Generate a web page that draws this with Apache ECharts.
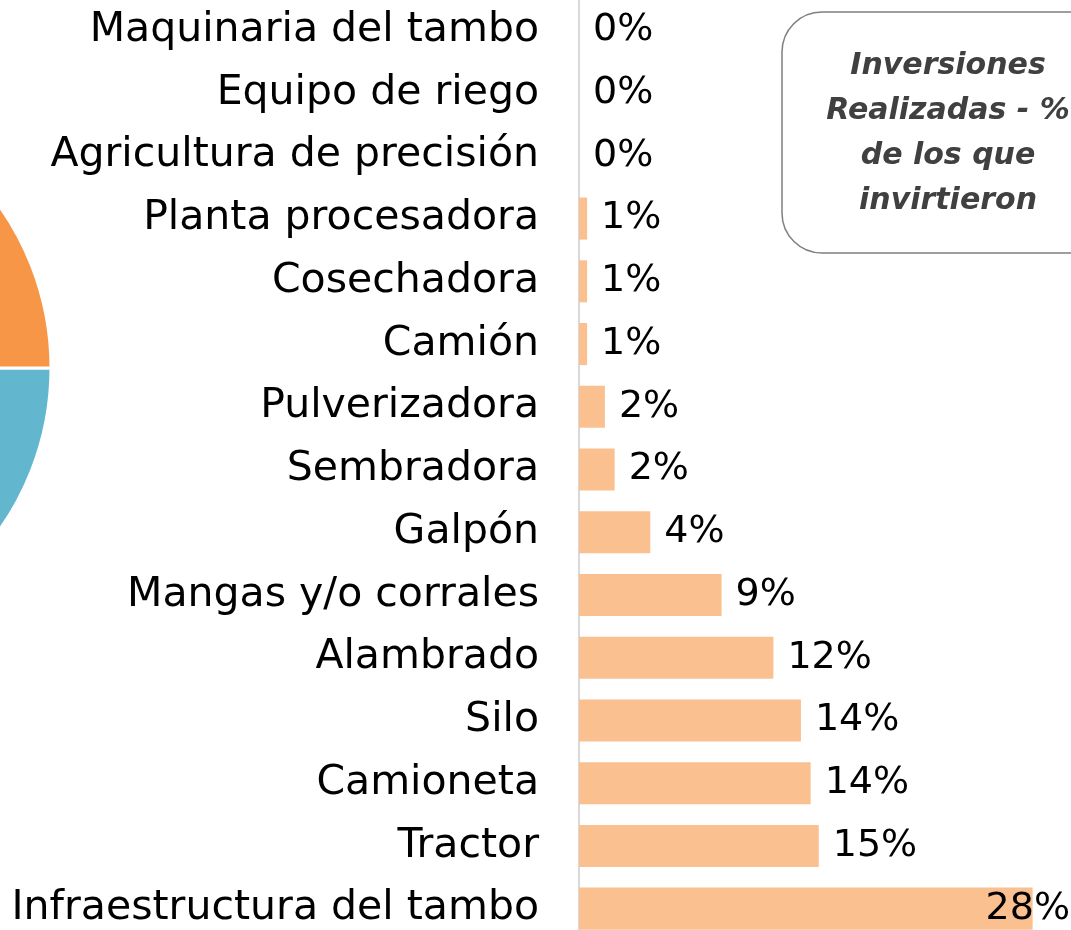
<!DOCTYPE html>
<html>
<head>
<meta charset="utf-8">
<script src="https://cdn.jsdelivr.net/npm/echarts@6/dist/echarts.min.js"></script>
<style>html,body{margin:0;padding:0;background:#fff;}#c{width:1071px;height:930px;}</style>
</head>
<body>
<div id="c"></div>
<script>
const categories = ["Maquinaria del tambo","Equipo de riego","Agricultura de precisión","Planta procesadora","Cosechadora","Camión","Pulverizadora","Sembradora","Galpón","Mangas y/o corrales","Alambrado","Silo","Camioneta","Tractor","Infraestructura del tambo"];
const values = [0, 0, 0, 0.5, 0.5, 0.5, 1.6, 2.2, 4.4, 8.8, 12.0, 13.7, 14.3, 14.8, 28.0];
const pieNames = ["Sí", "No"];
const pieValues = [50, 50];
const titleLines = ["Inversiones", "Realizadas - %", "de los que", "invirtieron"];

const FONT = "DejaVu Sans";
const chart = echarts.init(document.getElementById('c'), null, {renderer: 'canvas'});
const barData = values.map((v, i) => {
  const d = {value: v};
  if (i === values.length - 1) {
    d.label = {offset: [-61, 0]};
  }
  return d;
});
chart.setOption({
  animation: false,
  backgroundColor: '#ffffff',
  grid: {left: 579, right: 6, top: -1, bottom: -10, containLabel: false, outerBoundsMode: 'none'},
  xAxis: {type: 'value', min: 0, max: 30, show: false, splitLine: {show: false}},
  yAxis: {
    type: 'category', data: categories, inverse: true,
    axisLine: {show: true, lineStyle: {color: '#D9D9D9', width: 2}},
    axisTick: {show: false},
    axisLabel: {fontFamily: FONT, fontSize: 41, color: '#000', margin: 40}
  },
  series: [
    {
      type: 'bar', data: barData, barCategoryGap: '33%',
      itemStyle: {color: '#FAC090'},
      label: {show: true, position: 'right', distance: 14, fontFamily: FONT, fontSize: 38, color: '#000',
        formatter: p => Math.round(p.value) + '%'}
    },
    {
      type: 'pie', center: [-229, 368], radius: 280, startAngle: 0, clockwise: true,
      label: {show: false}, labelLine: {show: false}, silent: true,
      itemStyle: {borderColor: '#fff', borderWidth: 3},
      data: [
        {name: pieNames[1], value: pieValues[1], itemStyle: {color: '#62B7CF'}},
        {name: pieNames[0], value: pieValues[0], itemStyle: {color: '#F79646'}}
      ]
    }
  ],
  graphic: [
    {type: 'rect', shape: {x: 782, y: 12, width: 340, height: 241, r: 40},
      style: {fill: '#fff', stroke: '#7F7F7F', lineWidth: 1.5}, z: 10},
    {type: 'text', x: 948, y: 134, z: 11,
      style: {text: titleLines.join('\n'), fontFamily: FONT, fontSize: 30, fontWeight: 'bold', fontStyle: 'italic',
        fill: '#404040', align: 'center', verticalAlign: 'middle', lineHeight: 45}}
  ]
});
</script>
</body>
</html>
